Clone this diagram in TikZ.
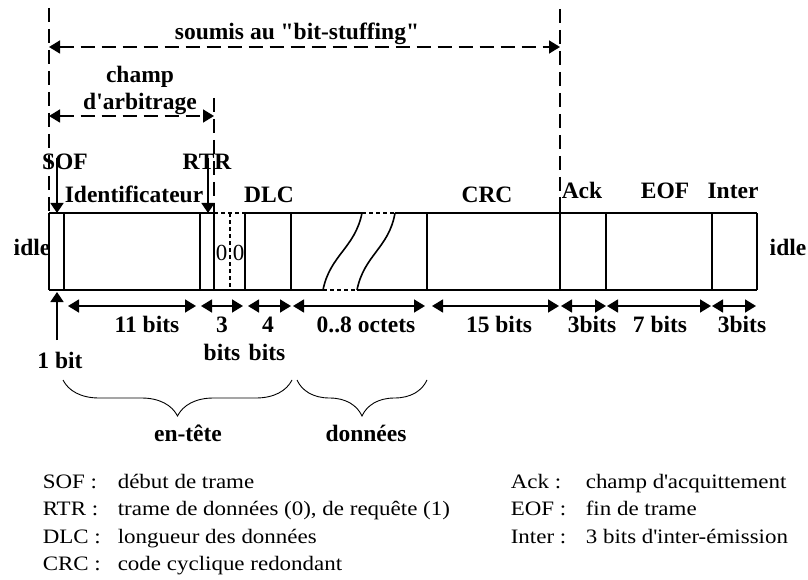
\documentclass[tikz,border=0pt]{standalone}
\usepackage{fontspec}
\setmainfont{Liberation Serif}
\newfontfamily\legfont[FakeStretch=1.12]{Liberation Serif}
\usetikzlibrary{arrows.meta,decorations.pathreplacing}
\tikzset{every picture/.style={x=1pt, y=-1pt, line width=1.6pt}}
\tikzset{
  fieldtext/.style={font=\fontsize{23.5}{27}\selectfont\bfseries, inner sep=0pt, anchor=base},
  legtext/.style={font=\fontsize{20.5}{27}\legfont, inner sep=0pt, anchor=base west},
  bittext/.style={font=\fontsize{23}{26}\selectfont, inner sep=0pt, anchor=base},
  headarrow/.style={-{Triangle[length=10pt,width=13pt]}},
  dimarrow/.style={{Triangle[length=11pt,width=13pt]}-{Triangle[length=11pt,width=13pt]}},
  longdash/.style={dash pattern=on 14pt off 7pt},
  shortdash/.style={dash pattern=on 4pt off 3pt},
  brace/.style={decorate, decoration={brace, amplitude=36pt}, line width=0.9pt}
}
\newcommand\fieldsep[1]{\draw (#1,213) -- (#1,290);}
\newcommand\dimlabel[3]{\node[fieldtext] (#1) at (#2,332) {#3};}

\begin{document}
\begin{tikzpicture}
      \useasboundingbox (0,0) rectangle (808,580);

      % Frame outline
      \draw (49,213) -- (214,213) (245,213) -- (362,213) (395,213) -- (757,213);
      \draw (49,290) -- (323,290) (357,290) -- (757,290);
      \draw[shortdash] (214,213) -- (245,213) (362,213) -- (395,213);
      \draw[shortdash] (323,290) -- (357,290);
      \foreach \x in {49,64,200,214,245,291,427,560,606,712,757}{
          \fieldsep{\x}
        }
      \draw[shortdash] (230,213) -- (230,290);
      \draw (323,290) .. controls (330,255) and (355,248) .. (362,213);
      \draw (357,290) .. controls (364,255) and (389,248) .. (395,213);
      \node[bittext] (zeroa) at (221.5,260) {0};
      \node[bittext] (zerob) at (238.5,260) {0};

      % Dashed limits and ranges
      \coordinate (stuffL) at (49,47);
      \coordinate (stuffR) at (560,47);
      \coordinate (arbL) at (49,116);
      \coordinate (arbR) at (214,116);
      \draw[longdash] (49,8) -- (49,213);
      \draw[longdash] (214,98) -- (214,213);
      \draw[longdash] (560,9) -- (560,197);
      \draw (560,197) -- (560,213);
      \draw[dimarrow, longdash] (stuffL) -- (stuffR);
      \draw[dimarrow, longdash] (arbL) -- (arbR);
      \node[fieldtext] (stuff) at (297,40) {soumis au \textquotedbl bit-stuffing\textquotedbl};
      \node[fieldtext] (champ) at (140,83) {champ};
      \node[fieldtext] (arbitrage) at (140,110) {d\textquotesingle arbitrage};

      % Field names
      \node[fieldtext] (sof) at (65,170) {SOF};
      \node[fieldtext] (rtr) at (207,170) {RTR};
      \node[fieldtext] (ident) at (134,203) {Identificateur};
      \node[fieldtext] (dlc) at (269,203) {DLC};
      \node[fieldtext] (crc) at (487,203) {CRC};
      \node[fieldtext] (ack) at (582,198) {Ack};
      \node[fieldtext] (eof) at (665,198) {EOF};
      \node[fieldtext] (inter) at (733,198) {Inter};
      \node[fieldtext] (idleL) at (32,255) {idle};
      \node[fieldtext] (idleR) at (788,255) {idle};
      \coordinate (sofA) at (57,158);
      \coordinate (sofB) at (57,213);
      \coordinate (rtrA) at (208,158);
      \coordinate (rtrB) at (208,213);
      \draw[headarrow] (sofA) -- (sofB);
      \draw[headarrow] (rtrA) -- (rtrB);

      % Field lengths
      \foreach \a/\b/\n in {68/196/d1,201/243/d2,248/291/d3,293/425/d4,
                            432/559/d5,561/606/d6,607/711/d7,712/756/d8}{
          \coordinate (\n L) at (\a,306);
          \coordinate (\n R) at (\b,306);
          \draw[dimarrow] (\n L) -- (\n R);
        }
      \coordinate (bitA) at (57,340);
      \coordinate (bitB) at (57,292);
      \draw[headarrow] (bitA) -- (bitB);
      \dimlabel{l1}{147}{11 bits}
      \dimlabel{l2}{222}{3}
      \dimlabel{l3}{268}{4}
      \dimlabel{l4}{366}{0..8 octets}
      \dimlabel{l5}{499}{15 bits}
      \dimlabel{l6}{592}{3bits}
      \dimlabel{l7}{660}{7 bits}
      \dimlabel{l8}{742}{3bits}
      \node[fieldtext] (l2b) at (222,360) {bits};
      \node[fieldtext] (l3b) at (267,360) {bits};
      \node[fieldtext] (onebit) at (60,368) {1 bit};

      % Braces
      \coordinate (headL) at (63,380);
      \coordinate (headR) at (292,380);
      \coordinate (dataL) at (297,380);
      \coordinate (dataR) at (427,380);
      \draw[brace] (headR) -- (headL);
      \draw[brace] (dataR) -- (dataL);
      \node[fieldtext] (entete) at (188,441) {en-tête};
      \node[fieldtext] (donnees) at (366,441) {données};

      % Legend
      \node[legtext] (kSOF) at (42,488) {SOF :};
      \node[legtext] (kRTR) at (42,515.5) {RTR :};
      \node[legtext] (kDLC) at (42,543) {DLC :};
      \node[legtext] (kCRC) at (42,570.5) {CRC :};
      \node[legtext] (vSOF) at (117,488) {début de trame};
      \node[legtext] (vRTR) at (117,515.5) {trame de données (0), de requête (1)};
      \node[legtext] (vDLC) at (117,543) {longueur des données};
      \node[legtext] (vCRC) at (117,570.5) {code cyclique redondant};
      \node[legtext] (kAck) at (510,488) {Ack :};
      \node[legtext] (kEOF) at (510,515.5) {EOF :};
      \node[legtext] (kInter) at (510,543) {Inter :};
      \node[legtext] (vAck) at (585,488) {champ d\textquotesingle acquittement};
      \node[legtext] (vEOF) at (585,515.5) {fin de trame};
      \node[legtext] (vInter) at (585,543) {3 bits d\textquotesingle inter-émission};
    \end{tikzpicture}
\end{document}
